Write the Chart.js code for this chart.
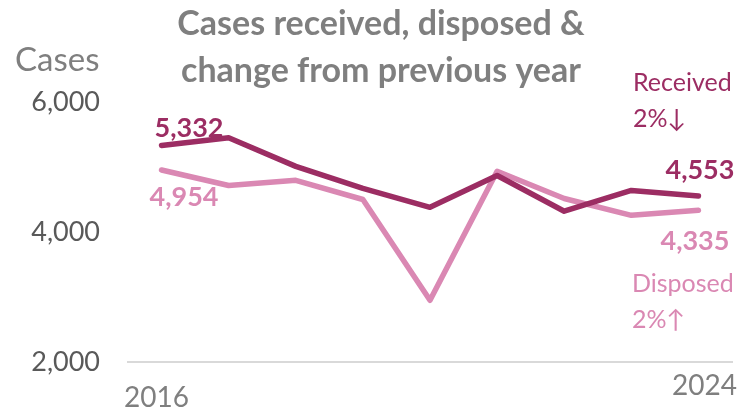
<!DOCTYPE html>
<html>
<head>
<meta charset="utf-8">
<script src="https://cdn.jsdelivr.net/npm/chart.js@4"></script>
<style>
  html, body { margin: 0; padding: 0; background: #ffffff; }
  #wrap { width: 749px; height: 412px; }
</style>
</head>
<body>
<div id="wrap"><canvas id="casesChart" width="749" height="412"></canvas></div>
<script>
const years = ['2016', '2017', '2018', '2019', '2020', '2021', '2022', '2023', '2024'];
const received = [5332, 5450, 5010, 4670, 4380, 4870, 4320, 4640, 4553];
const disposed = [4954, 4715, 4795, 4500, 2950, 4935, 4515, 4257, 4335];
const yTicks = [2000, 4000, 6000];
const shownYears = ['2016', '2024'];
const titleLines = ['Cases received, disposed &', 'change from previous year'];

const darkPink = '#9c2d63';
const lightPink = '#da88b3';
const grey = '#7f7f7f';
const fontName = 'Lato, "DejaVu Sans", sans-serif';

function pctChange(arr) {
    const a = arr[arr.length - 2], b = arr[arr.length - 1];
    return Math.round(Math.abs(b - a) / a * 100) + '%' + (b < a ? '\u2193' : '\u2191');
}

// extra texts: title, axis title, end labels, change notes, shown years
const textPlugin = {
    id: 'texts',
    afterDraw(chart) {
        const ctx = chart.ctx;
        const xs = chart.scales.x;
        const recPts = chart.getDatasetMeta(0).data;
        const disPts = chart.getDatasetMeta(1).data;
        const last = received.length - 1;
        ctx.save();
        ctx.textBaseline = 'middle';

        ctx.fillStyle = grey;
        ctx.font = 'bold 34px ' + fontName;
        ctx.textAlign = 'center';
        ctx.fillText(titleLines[0], 381, 24);
        ctx.fillText(titleLines[1], 381, 71);

        ctx.font = '33px ' + fontName;
        ctx.textAlign = 'left';
        ctx.fillText('Cases', 15, 60);

        ctx.font = '28px ' + fontName;
        ctx.textAlign = 'center';
        ctx.fillText(shownYears[0], xs.getPixelForValue(0) - 5, 398);
        ctx.fillText(shownYears[1], xs.getPixelForValue(last) + 6, 386);

        ctx.font = 'bold 27px ' + fontName;
        ctx.fillStyle = darkPink;
        ctx.textAlign = 'left';
        ctx.fillText(received[0].toLocaleString('en-GB'), recPts[0].x - 7, recPts[0].y - 17);
        ctx.textAlign = 'right';
        ctx.fillText(received[last].toLocaleString('en-GB'), recPts[last].x + 36, recPts[last].y - 26);

        ctx.fillStyle = lightPink;
        ctx.textAlign = 'left';
        ctx.fillText(disposed[0].toLocaleString('en-GB'), disPts[0].x - 12, disPts[0].y + 27);
        ctx.textAlign = 'right';
        ctx.fillText(disposed[last].toLocaleString('en-GB'), disPts[last].x + 31, disPts[last].y + 31);

        ctx.font = '25px ' + fontName;
        ctx.textAlign = 'left';
        ctx.fillStyle = darkPink;
        ctx.fillText('Received', 633, 83);
        ctx.fillText(pctChange(received), 633, 119);
        ctx.fillStyle = lightPink;
        ctx.fillText('Disposed', 632, 284);
        ctx.fillText(pctChange(disposed), 632, 320);
        ctx.restore();
    }
};

const ctx = document.getElementById('casesChart').getContext('2d');

new Chart(ctx, {
    type: 'line',
    data: {
        labels: years,
        datasets: [
            { label: 'Received', data: received, borderColor: darkPink, borderWidth: 5.5 },
            { label: 'Disposed', data: disposed, borderColor: lightPink, borderWidth: 5.5 }
        ]
    },
    options: {
        responsive: false,
        animation: false,
        layout: { padding: { left: 0, right: 17, top: 102, bottom: 42 } },
        elements: {
            point: { radius: 0 },
            line: { tension: 0, borderCapStyle: 'round', borderJoinStyle: 'round' }
        },
        plugins: {
            legend: { display: false },
            tooltip: { enabled: false },
            title: { display: false }
        },
        scales: {
            x: {
                offset: true,
                grid: { display: false },
                border: { display: true, color: '#d9d9d9', width: 2 },
                ticks: { display: false }
            },
            y: {
                min: 2000,
                max: 6000,
                afterBuildTicks: s => { s.ticks = yTicks.map(v => ({ value: v })); },
                afterFit: s => { s.width = 128; },
                grid: { display: false, drawTicks: false },
                border: { display: false },
                ticks: {
                    color: '#595959',
                    padding: 28,
                    font: { family: fontName, size: 27 },
                    callback: v => v.toLocaleString('en-GB')
                }
            }
        }
    },
    plugins: [textPlugin]
});
</script>
</body>
</html>
